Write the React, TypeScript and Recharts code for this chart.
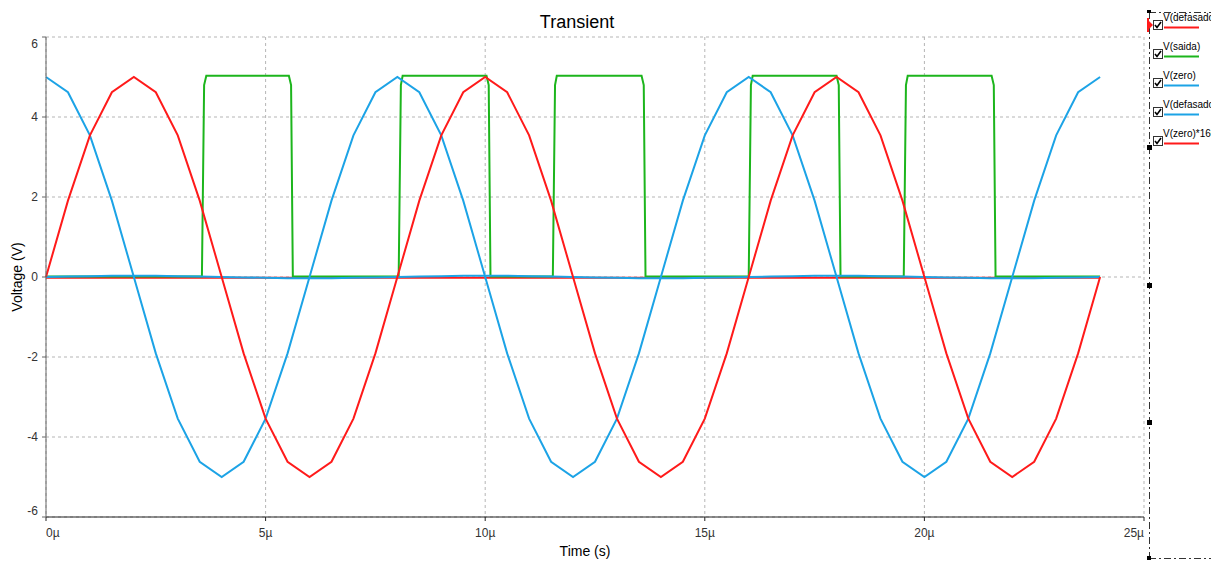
import { LineChart, Line, XAxis, YAxis, CartesianGrid } from "recharts";

const FONT = '"Liberation Sans", Arial, sans-serif';
const RED = "#ff1a1a";
const GREEN = "#1cb51c";
const BLUE = "#1ca3e6";

// time axis in microseconds
const TIME_US = [
  0, 0.5, 1, 1.5, 2, 2.5, 3, 3.5, 4, 4.5, 5, 5.5, 6, 6.5, 7, 7.5, 8, 8.5, 9, 9.5,
  10, 10.5, 11, 11.5, 12, 12.5, 13, 13.5, 14, 14.5, 15, 15.5, 16, 16.5, 17, 17.5,
  18, 18.5, 19, 19.5, 20, 20.5, 21, 21.5, 22, 22.5, 23, 23.5, 24,
];

const ZERO_X166 = [
  0, 1.91, 3.54, 4.62, 5, 4.62, 3.54, 1.91, 0, -1.91, -3.54, -4.62, -5, -4.62, -3.54, -1.91,
  0, 1.91, 3.54, 4.62, 5, 4.62, 3.54, 1.91, 0, -1.91, -3.54, -4.62, -5, -4.62, -3.54, -1.91,
  0, 1.91, 3.54, 4.62, 5, 4.62, 3.54, 1.91, 0, -1.91, -3.54, -4.62, -5, -4.62, -3.54, -1.91,
  0,
];

const DEFASADO = [
  5, 4.62, 3.54, 1.91, 0, -1.91, -3.54, -4.62, -5, -4.62, -3.54, -1.91, 0, 1.91, 3.54, 4.62,
  5, 4.62, 3.54, 1.91, 0, -1.91, -3.54, -4.62, -5, -4.62, -3.54, -1.91, 0, 1.91, 3.54, 4.62,
  5, 4.62, 3.54, 1.91, 0, -1.91, -3.54, -4.62, -5, -4.62, -3.54, -1.91, 0, 1.91, 3.54, 4.62,
  5,
];

const ZERO = [
  0, 0.01, 0.02, 0.03, 0.03, 0.03, 0.02, 0.01, 0, -0.01, -0.02, -0.03, -0.03, -0.03, -0.02, -0.01,
  0, 0.01, 0.02, 0.03, 0.03, 0.03, 0.02, 0.01, 0, -0.01, -0.02, -0.03, -0.03, -0.03, -0.02, -0.01,
  0, 0.01, 0.02, 0.03, 0.03, 0.03, 0.02, 0.01, 0, -0.01, -0.02, -0.03, -0.03, -0.03, -0.02, -0.01,
  0,
];

const FLAT_T = [0, 24];
const FLAT_V = [-0.02, -0.02];

const SAIDA_T = [
  0, 3.55, 3.6, 3.65, 5.53, 5.58, 5.62, 8.03, 8.08, 8.12, 10.03, 10.08, 10.12, 11.54, 11.59,
  11.63, 13.56, 13.61, 13.65, 16.0, 16.05, 16.09, 18.0, 18.05, 18.09, 19.53, 19.58, 19.62,
  21.53, 21.58, 21.62, 24.0,
];
const SAIDA_V = [
  0.01, 0.01, 4.8, 5.03, 5.03, 4.8, 0.01, 0.01, 4.8, 5.03, 5.03, 4.8, 0.01, 0.01, 4.8,
  5.03, 5.03, 4.8, 0.01, 0.01, 4.8, 5.03, 5.03, 4.8, 0.01, 0.01, 4.8, 5.03,
  5.03, 4.8, 0.01, 0.01,
];

const X_TICKS = [0, 5, 10, 15, 20, 25];
const Y_TICKS = [-6, -4, -2, 0, 2, 4, 6];

const toPoints = (ts: number[], vs: number[]) => ts.map((t, i) => ({ t, v: vs[i] }));

const SERIES = [
  { key: "defasadoFlat", name: "V(defasado)", color: RED, data: toPoints(FLAT_T, FLAT_V) },
  { key: "saida", name: "V(saida)", color: GREEN, data: toPoints(SAIDA_T, SAIDA_V) },
  { key: "zero", name: "V(zero)", color: BLUE, data: toPoints(TIME_US, ZERO) },
  { key: "defasado", name: "V(defasado)", color: BLUE, data: toPoints(TIME_US, DEFASADO) },
  { key: "zero166", name: "V(zero)*166", color: RED, data: toPoints(TIME_US, ZERO_X166) },
];

const YTick = ({ x, y, payload }: any) => {
  let dy = 4;
  if (payload.value === 6) dy = 11;
  if (payload.value === -6) dy = -2;
  return (
    <text x={x} y={y + dy} textAnchor="end" fontSize={12} fill="#333" fontFamily={FONT}>
      {payload.value}
    </text>
  );
};

const XTick = ({ x, y, payload }: any) => {
  let anchor = "middle";
  if (payload.value === 0) anchor = "start";
  if (payload.value === 25) anchor = "end";
  return (
    <text x={x} y={y + 14} textAnchor={anchor} fontSize={12} fill="#333" fontFamily={FONT}>
      {payload.value}µ
    </text>
  );
};

const CheckBox = ({ x, y }: { x: number; y: number }) => (
  <g>
    <rect x={x + 0.5} y={y + 0.5} width={9} height={9} fill="#fff" stroke="#333" />
    <path d={`M${x + 2} ${y + 5} L${x + 4} ${y + 7.5} L${x + 8} ${y + 2}`} fill="none" stroke="#000" strokeWidth={1.6} />
  </g>
);

const Overlay = () => (
  <svg
    width={1211}
    height={561}
    style={{ position: "absolute", left: 0, top: 0, pointerEvents: "none" }}
  >
    <text x={577} y={28} textAnchor="middle" fontSize={18} fill="#000" fontFamily={FONT}>
      Transient
    </text>
    <line x1={1149.5} y1={12} x2={1149.5} y2={558} stroke="#333" strokeDasharray="7 3 2 3" />
    <line x1={1149} y1={12.5} x2={1211} y2={12.5} stroke="#333" strokeDasharray="7 3 2 3" />
    <line x1={1149} y1={558.5} x2={1211} y2={558.5} stroke="#333" strokeDasharray="7 3 2 3" />
    {[145, 283, 420].map((yy) => (
      <rect key={yy} x={1147} y={yy} width={5} height={5} fill="#000" />
    ))}
    <rect x={1147} y={10} width={4} height={3} fill="#000" />
    <rect x={1147} y={556} width={4} height={4} fill="#000" />
    <rect x={1147} y={18} width={2} height={14} fill={RED} />
    <polygon points="1149,21 1153,25 1149,29" fill={RED} />
    {SERIES.map((s, i) => {
      const uy = 27 + i * 29;
      return (
        <g key={s.key}>
          <CheckBox x={1153} y={uy - 7} />
          <text x={1163} y={uy - 6} fontSize={10} fill="#000" fontFamily={FONT}>
            {s.name}
          </text>
          <line x1={1164} y1={uy + 0.5} x2={1199} y2={uy + 0.5} stroke={s.color} strokeWidth={2} />
        </g>
      );
    })}
  </svg>
);

export default function App() {
  return (
    <div style={{ position: "absolute", left: 0, top: 0, width: 1211, height: 561, background: "#fff" }}>
      <LineChart width={1211} height={561} margin={{ top: 37, right: 67, left: 0, bottom: 0 }}>
        <CartesianGrid strokeDasharray="3 3" stroke="#b5b5b5" />
        <XAxis
          dataKey="t"
          type="number"
          domain={[0, 25]}
          ticks={X_TICKS}
          allowDuplicatedCategory={false}
          height={44}
          tickSize={4}
          tickMargin={2}
          tick={<XTick />}
          stroke="#222"
          label={() => (
            <text x={585} y={556} textAnchor="middle" fontSize={14} fill="#000" fontFamily={FONT}>
              Time (s)
            </text>
          )}
        />
        <YAxis
          type="number"
          domain={[-6, 6]}
          ticks={Y_TICKS}
          width={46}
          tickSize={4}
          tickMargin={4}
          tick={<YTick />}
          stroke="#666"
          label={() => (
            <text transform="translate(22,277) rotate(-90)" textAnchor="middle" fontSize={14} fill="#000" fontFamily={FONT}>
              Voltage (V)
            </text>
          )}
        />
        {SERIES.map((s) => (
          <Line
            key={s.key}
            data={s.data}
            dataKey="v"
            name={s.name}
            type="linear"
            stroke={s.color}
            strokeWidth={2}
            dot={false}
            isAnimationActive={false}
          />
        ))}
      </LineChart>
      <Overlay />
    </div>
  );
}
